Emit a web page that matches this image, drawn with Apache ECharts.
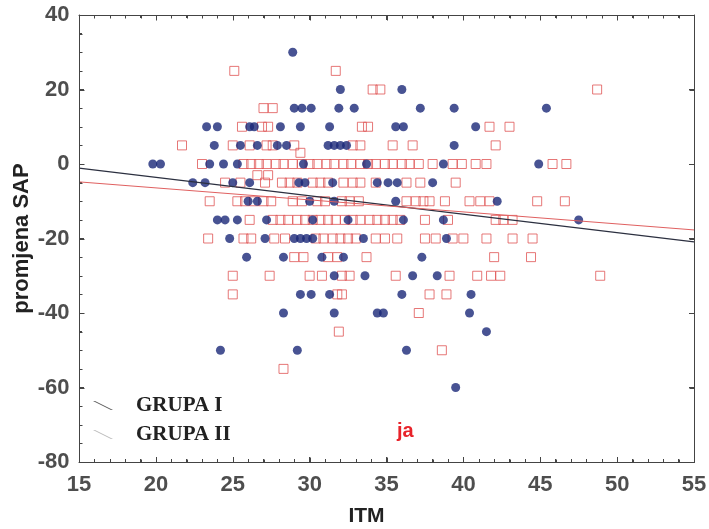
<!DOCTYPE html>
<html>
<head>
<meta charset="utf-8">
<script src="https://cdn.jsdelivr.net/npm/echarts@6/dist/echarts.min.js"></script>
<style>html,body{margin:0;padding:0;background:#fff}#c{width:709px;height:529px}</style>
</head>
<body>
<div id="c"></div>
<script>
// GRUPA I (filled circles) [ITM, promjena SAP]
const grupa1 = [
 [28.9,30],
 [32.0,20],[36.0,20],
 [29.0,15],[29.5,15],[30.1,15],[31.9,15],[32.9,15],[37.2,15],[39.4,15],[45.4,15],
 [23.3,10],[24.0,10],[26.1,10],[26.4,10],[28.1,10],[29.4,10],[31.3,10],[35.6,10],[36.1,10],[40.8,10],
 [23.8,5],[25.5,5],[26.6,5],[27.9,5],[28.5,5],[31.2,5],[31.6,5],[32.0,5],[32.4,5],[39.4,5],
 [19.8,0],[20.3,0],[23.5,0],[24.4,0],[25.3,0],[29.6,0],[33.7,0],[38.7,0],[44.9,0],
 [22.4,-5],[23.2,-5],[25.0,-5],[26.1,-5],[29.3,-5],[29.7,-5],[31.5,-5],[34.4,-5],[35.1,-5],[35.7,-5],[38.0,-5],
 [26.0,-10],[26.6,-10],[30.0,-10],[31.6,-10],[35.6,-10],[42.2,-10],
 [24.0,-15],[24.5,-15],[25.3,-15],[27.2,-15],[30.2,-15],[32.5,-15],[36.1,-15],[38.7,-15],[47.5,-15],
 [24.8,-20],[27.1,-20],[29.0,-20],[29.4,-20],[29.8,-20],[30.2,-20],[33.5,-20],[38.9,-20],
 [25.9,-25],[28.3,-25],[30.8,-25],[32.2,-25],[37.3,-25],
 [31.6,-30],[33.6,-30],[36.7,-30],[38.3,-30],
 [29.4,-35],[30.1,-35],[31.3,-35],[36.0,-35],[40.5,-35],
 [28.3,-40],[31.6,-40],[34.4,-40],[34.8,-40],[40.4,-40],
 [41.5,-45],
 [24.2,-50],[29.2,-50],[36.3,-50],
 [39.5,-60]
];
// GRUPA II (open squares)
const grupa2 = [
 [25.1,25],[31.7,25],
 [34.1,20],[34.6,20],[48.7,20],
 [27.0,15],[27.6,15],
 [25.6,10],[26.9,10],[27.3,10],[33.4,10],[33.8,10],[41.7,10],[43.0,10],
 [21.7,5],[25.0,5],[26.1,5],[27.2,5],[27.6,5],[29.0,5],[32.8,5],[33.3,5],[35.4,5],[36.7,5],[42.1,5],
 [29.4,3],
 [23.0,0],[25.7,0],[26.2,0],[26.7,0],[27.2,0],[27.8,0],[28.3,0],[28.9,0],[29.5,0],[30.0,0],[30.5,0],[31.1,0],
 [31.6,0],[32.2,0],[32.7,0],[33.3,0],[33.8,0],[34.3,0],[34.9,0],[35.4,0],[36.0,0],[36.5,0],[37.1,0],
 [38.0,0],[39.3,0],[39.9,0],[40.8,0],[41.5,0],[45.8,0],[46.7,0],
 [26.6,-3],[27.3,-3],
 [24.5,-5],[25.5,-5],[27.1,-5],[28.2,-5],[28.7,-5],[29.2,-5],[30.2,-5],[30.7,-5],[31.2,-5],[32.2,-5],
 [32.8,-5],[33.3,-5],[34.3,-5],[36.3,-5],[37.2,-5],[39.5,-5],
 [23.5,-10],[25.3,-10],[25.8,-10],[26.4,-10],[27.0,-10],[27.5,-10],[28.9,-10],[29.5,-10],[30.5,-10],[31.0,-10],
 [32.1,-10],[32.6,-10],[33.2,-10],[36.3,-10],[36.9,-10],[37.4,-10],[37.8,-10],[38.8,-10],[40.4,-10],[41.1,-10],
 [41.7,-10],[44.8,-10],[46.6,-10],
 [26.1,-15],[27.6,-15],[28.1,-15],[28.6,-15],[29.2,-15],[29.7,-15],[30.2,-15],[30.7,-15],[31.2,-15],[31.7,-15],
 [32.3,-15],[32.8,-15],[33.3,-15],[33.9,-15],[34.4,-15],[34.9,-15],[35.4,-15],[35.9,-15],[37.5,-15],[39.0,-15],
 [42.1,-15],[42.6,-15],[43.2,-15],
 [23.4,-20],[25.7,-20],[26.2,-20],[27.7,-20],[28.4,-20],[30.4,-20],[30.9,-20],[31.5,-20],[32.0,-20],[32.5,-20],
 [33.0,-20],[34.3,-20],[34.9,-20],[35.7,-20],[37.5,-20],[38.2,-20],[39.3,-20],[40.0,-20],[41.5,-20],[43.2,-20],[44.5,-20],
 [29.0,-25],[29.6,-25],[31.2,-25],[31.8,-25],[33.7,-25],[42.0,-25],[44.4,-25],
 [25.0,-30],[27.4,-30],[30.0,-30],[30.8,-30],[32.1,-30],[32.6,-30],[35.6,-30],[39.1,-30],[40.9,-30],[41.8,-30],[42.4,-30],[48.9,-30],
 [25.0,-35],[31.8,-35],[32.1,-35],[37.8,-35],[38.9,-35],
 [37.1,-40],
 [31.9,-45],
 [38.6,-50],
 [28.3,-55]
];
// regression lines (end points)
const fitI = [[15,-1.1],[55,-20.9]];
const fitII = [[15,-4.8],[55,-17.7]];
// tick labels
const xTicks = [15,20,25,30,35,40,45,50,55];
const yTicks = [-80,-60,-40,-20,0,20,40];

const chart = echarts.init(document.getElementById('c'));
const axisCol = '#444';
const tickFont = {fontFamily:'Liberation Sans, Arial, sans-serif', fontWeight:'bold', fontSize:22, color:'#222'};
const tick = {show:true,inside:true,length:5,lineStyle:{color:axisCol,width:1}};
const minor = (n)=>({show:true,splitNumber:n,length:3,lineStyle:{color:axisCol,width:1}});
const line = {show:true,onZero:false,lineStyle:{color:axisCol,width:1}};
const xMin = xTicks[0], xMax = xTicks[xTicks.length-1];
const yMin = yTicks[0], yMax = yTicks[yTicks.length-1];

// frame + tick marks drawn through the cartesian scale (custom series)
function renderFrame(params, api){
  const crisp = (v)=>Math.round(v)+0.5;
  const bl = api.coord([xMin, yMin]);
  const tr = api.coord([xMax, yMax]);
  const L = crisp(bl[0]), R = crisp(tr[0]), B = crisp(bl[1]), T = crisp(tr[1]);
  const st = {stroke:axisCol, lineWidth:1, fill:null};
  const kids = [{type:'rect', shape:{x:L, y:T, width:R-L, height:B-T}, style:{stroke:axisCol, lineWidth:1, fill:'rgba(0,0,0,0)'}, silent:true}];
  const seg = (x1,y1,x2,y2)=>kids.push({type:'line', shape:{x1:x1,y1:y1,x2:x2,y2:y2}, style:st, silent:true});
  for(let v = xMin; v <= xMax; v += 1){
    const px = crisp(api.coord([v, yMin])[0]);
    const len = ((v - xMin) % 5 === 0) ? 5 : 3;
    seg(px, B, px, B - len);
    seg(px, T, px, T + len);
  }
  for(let v = yMin; v <= yMax; v += 5){
    const py = crisp(api.coord([xMin, v])[1]);
    const major = ((v - yMin) % 20 === 0);
    seg(L, py, L + (major ? 5 : 3), py);
    if(major) seg(R, py, R - 5, py);
  }
  return {type:'group', children:kids};
}

chart.setOption({
  backgroundColor:'#fff', animation:false,
  grid:{left:79,right:15,top:15,bottom:67,containLabel:false,outerBoundsMode:'none'},
  xAxis:[{
    type:'value', position:'bottom', min:xMin, max:xMax, interval:5,
    name:'ITM', nameLocation:'middle', nameGap:44, nameMoveOverlap:false,
    nameTextStyle:{fontFamily:'Liberation Sans, Arial, sans-serif', fontWeight:'bold', fontSize:21, color:'#222', padding:[0,40,0,0]},
    axisLine:line, axisTick:tick, minorTick:minor(5),
    axisLabel:{show:false}, splitLine:{show:false}, minorSplitLine:{show:false}
  },{
    type:'value', position:'top', min:xMin, max:xMax, interval:5,
    axisLine:line, axisTick:tick, minorTick:minor(5),
    axisLabel:{show:false}, splitLine:{show:false}
  }],
  yAxis:[{
    type:'value', position:'left', min:yMin, max:yMax, interval:20,
    name:'promjena SAP', nameLocation:'middle', nameGap:46, nameMoveOverlap:false,
    nameTextStyle:{fontFamily:'Liberation Sans, Arial, sans-serif', fontWeight:'bold', fontSize:22, color:'#222'},
    axisLine:line, axisTick:tick, minorTick:minor(4),
    axisLabel:{show:false}, splitLine:{show:false}
  },{
    type:'value', position:'right', min:yMin, max:yMax, interval:20,
    axisLine:line, axisTick:tick,
    axisLabel:{show:false}, splitLine:{show:false}
  }],
  legend:{
    orient:'vertical', left:88, top:390, itemWidth:20, itemHeight:10, itemGap:8,
    icon:'path://M0,0 L2,0 L20,9 L18,9 Z',
    textStyle:{fontFamily:'Liberation Serif, Times New Roman, serif', fontWeight:'bold', fontSize:21, color:'#222', padding:[0,0,0,18]},
    data:[
      {name:'GRUPA I', itemStyle:{color:'#333', borderWidth:0}},
      {name:'GRUPA II', itemStyle:{color:'#aaa', borderColor:'#aaa', borderWidth:0}}
    ]
  },
  series:[
    {name:'frame', type:'custom', coordinateSystem:'cartesian2d', data:[[xMin, yMin]],
     renderItem:renderFrame, clip:false, silent:true, z:5},
    {name:'GRUPA II', type:'scatter', data:grupa2, symbol:'rect', symbolSize:9,
     itemStyle:{color:'rgba(255,255,255,0)', borderColor:'#e05555', borderWidth:1}, z:2},
    {name:'GRUPA I', type:'scatter', data:grupa1, symbol:'circle', symbolSize:9,
     itemStyle:{color:'#1a2878'}, z:3},
    {name:'GRUPA I', type:'line', data:fitI, symbol:'none', lineStyle:{color:'#2c3040',width:1.2}, z:4},
    {name:'GRUPA II', type:'line', data:fitII, symbol:'none', lineStyle:{color:'#e06060',width:1}, z:4},
    // tick labels placed through the axis scales
    {name:'xlab', type:'scatter', data:xTicks.map(v=>[v,yMin]), symbolSize:1, clip:false, silent:true,
     itemStyle:{color:'rgba(0,0,0,0)'}, emphasis:{disabled:true},
     label:Object.assign({show:true, position:'bottom', distance:11, formatter:(p)=>String(p.value[0])}, tickFont), z:1},
    {name:'ylab', type:'scatter', data:yTicks.map(v=>[xMin,v]), symbolSize:1, clip:false, silent:true,
     itemStyle:{color:'rgba(0,0,0,0)'}, emphasis:{disabled:true},
     label:Object.assign({show:true, position:'left', distance:9, formatter:(p)=>String(p.value[1])}, tickFont), z:1}
  ],
  graphic:[{type:'text', left:397, top:421, style:{text:'ja', fill:'#e8232a', font:'bold 20px Liberation Sans, Arial, sans-serif'}}]
});
</script>
</body>
</html>
